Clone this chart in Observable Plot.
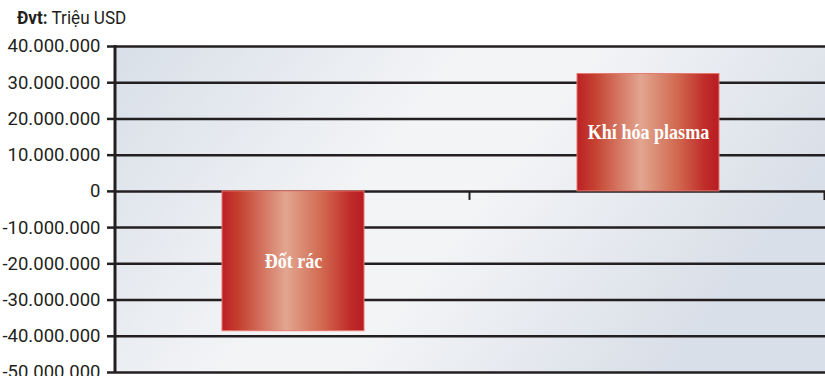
<!DOCTYPE html>
<html><head><meta charset="utf-8">
<script src="https://cdn.jsdelivr.net/npm/d3@7"></script>
<script src="https://cdn.jsdelivr.net/npm/@observablehq/plot@0.6"></script>
<style>
body{margin:0;background:#fff;font-family:Roboto,sans-serif;overflow:hidden;}
#title{height:34px;box-sizing:border-box;padding:7px 0 0 17px;font-size:19px;color:#231f20;line-height:22px;white-space:nowrap;}
#title span{display:inline-block;transform:scaleX(0.9);transform-origin:left center;}
</style></head><body>
<div id="title"><span><b>Đvt:</b> Triệu USD</span></div>
<div id="chart"></div>
<script>
const categories = ["Đốt rác", "Khí hóa plasma"];
const values = [-38600000, 32400000];
const yTicks = [40000000, 30000000, 20000000, 10000000, 0, -10000000, -20000000, -30000000, -40000000, -50000000];

const data = categories.map((c, i) => ({cat: c, value: values[i]}));
const fmt = d3.formatLocale({decimal: ",", thousands: ".", grouping: [3], currency: ["", ""], minus: "-"}).format(",");
const ns = "http://www.w3.org/2000/svg";
function el(name, attrs) {
  const e = document.createElementNS(ns, name);
  for (const k in attrs) e.setAttribute(k, attrs[k]);
  return e;
}
function background(index, scales, values, dims) {
  const g = el("g", {});
  const defs = el("defs", {});
  const bg = el("linearGradient", {id: "bgGrad", x1: "0", y1: "0", x2: "1", y2: "0.35"});
  [["0", "#d8dfe8"], ["0.45", "#f3f4f6"], ["0.6", "#f3f4f6"], ["1", "#d9dfe8"]].forEach(([o, c]) => bg.appendChild(el("stop", {offset: o, "stop-color": c})));
  const bar = el("linearGradient", {id: "barGrad", x1: "0", y1: "0", x2: "1", y2: "0"});
  [["0", "#bd2026"], ["0.12", "#c4402f"], ["0.45", "#e2a690"], ["0.72", "#d0654c"], ["0.9", "#c02c2a"], ["1", "#b71c22"]].forEach(([o, c]) => bar.appendChild(el("stop", {offset: o, "stop-color": c})));
  defs.appendChild(bg); defs.appendChild(bar);
  g.appendChild(defs);
  g.appendChild(el("rect", {x: dims.marginLeft, y: dims.marginTop, width: dims.width - dims.marginLeft - dims.marginRight, height: dims.height - dims.marginTop - dims.marginBottom, fill: "url(#bgGrad)"}));
  return g;
}
function decor(index, scales, values, dims) {
  const g = el("g", {stroke: "#231f20"});
  const x = scales.x, y = scales.y;
  const step = x.step(), bw = x.bandwidth();
  const y0 = y(0);
  for (const c of categories) {
    const xb = x(c) + bw + step * 0.3 - 1;
    g.appendChild(el("line", {x1: xb, x2: xb, y1: y0, y2: y0 + 9, "stroke-width": 2}));
  }
  g.appendChild(el("line", {x1: dims.marginLeft, x2: dims.marginLeft, y1: dims.marginTop - 1, y2: dims.height - dims.marginBottom + 1, "stroke-width": 3}));
  return g;
}

const chart = Plot.plot({
  width: 825,
  height: 342,
  marginLeft: 115,
  marginRight: 0,
  marginTop: 12,
  marginBottom: 4,
  style: {fontFamily: "Roboto, sans-serif", color: "#231f20", background: "transparent", overflow: "visible"},
  x: {domain: categories, paddingInner: 0.6, paddingOuter: 0.3, axis: null},
  y: {domain: [-50000000, 40000000]},
  marks: [
    background,
    Plot.gridY(yTicks, {stroke: "#231f20", strokeOpacity: 1, strokeWidth: 2.5}),
    Plot.barY(data, {x: "cat", y: "value", fill: "url(#barGrad)", stroke: "#e8786e", strokeWidth: 1}),
    Plot.text(data, {x: "cat", y: d => d.value / 2, text: "cat", fill: "white", fontSize: 21, fontWeight: "bold", fontFamily: "Liberation Serif, serif", className: "barlabel"}),
    Plot.axisY(yTicks, {tickSize: 8, tickPadding: 7, tickFormat: fmt, fontSize: 18.5, stroke: "#231f20", strokeWidth: 2.5, label: null}),
    decor
  ]
});
document.getElementById("chart").appendChild(chart);
// condense the serif bar labels
chart.querySelectorAll(".barlabel text, g.barlabel text").forEach(t => {
  const w = t.getComputedTextLength();
  t.setAttribute("textLength", w * 0.86);
  t.setAttribute("lengthAdjust", "spacingAndGlyphs");
});
</script>
</body></html>
